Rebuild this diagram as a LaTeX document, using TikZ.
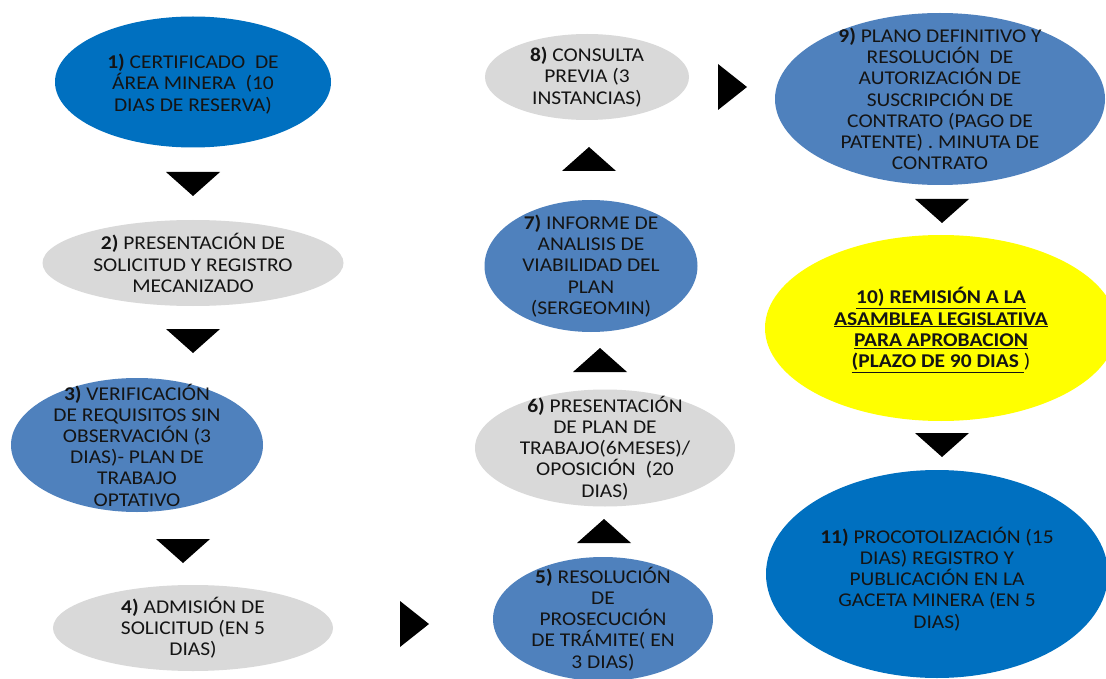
\documentclass[tikz,border=0pt]{standalone}
\usepackage{fontspec}
\setmainfont{Carlito}[FakeStretch=1.1]
\usetikzlibrary{shapes.geometric}
\definecolor{dblue}{HTML}{0070C0}
\definecolor{mblue}{HTML}{4F81BD}
\definecolor{lgray}{HTML}{D9D9D9}
\definecolor{yel}{HTML}{FFFF00}
\tikzset{
  blob/.style={ellipse, inner sep=0pt, draw=none},
  txt/.style={align=center, inner sep=0pt, text=black!92, font=\fontsize{19.5}{21.2}\selectfont},
  downtri/.pic={\fill[black] (-27,-12) -- (27,-12) -- (0,12) -- cycle;},
  uptri/.pic={\fill[black] (-27,12) -- (27,12) -- (0,-12) -- cycle;},
  righttri/.pic={\fill[black] (-14,-23) -- (-14,23) -- (15,0) -- cycle;},
}
\begin{document}
\begin{tikzpicture}[x=1pt,y=-1pt]
\useasboundingbox[fill=white] (0,0) rectangle (1106,679);
% ellipses
\node[blob, fill=dblue, minimum width=276pt, minimum height=131pt] (e1) at (193,82) {};
\node[blob, fill=lgray, minimum width=301pt, minimum height=86pt] (e2) at (193,263) {};
\node[blob, fill=mblue, minimum width=252pt, minimum height=134pt] (e3) at (137,445) {};
\node[blob, fill=lgray, minimum width=280pt, minimum height=86pt] (e4) at (193,628) {};
\node[blob, fill=mblue, minimum width=220pt, minimum height=124pt] (e5) at (603,619) {};
\node[blob, fill=lgray, minimum width=260pt, minimum height=117pt] (e6) at (605,448) {};
\node[blob, fill=mblue, minimum width=213pt, minimum height=132pt] (e7) at (591,266) {};
\node[blob, fill=lgray, minimum width=204pt, minimum height=86pt] (e8) at (587,77) {};
\node[blob, fill=mblue, minimum width=330pt, minimum height=172pt] (e9) at (940,99) {};
\node[blob, fill=yel, minimum width=352pt, minimum height=186pt] (e10) at (941,328) {};
\node[blob, fill=dblue, minimum width=342pt, minimum height=208pt] (e11) at (937,574) {};
% texts
\node[txt] (t1) at ([yshift=-2pt]e1) {\textbf{1)} CERTIFICADO\ \ DE\\ÁREA MINERA\ \ (10\\DIAS DE RESERVA)};
\node[txt] (t2) at (e2) {\textbf{2)} PRESENTACIÓN DE\\SOLICITUD Y REGISTRO\\MECANIZADO};
\node[txt] (t3) at (e3) {\textbf{3)} VERIFICACIÓN\\DE REQUISITOS SIN\\OBSERVACIÓN (3\\DIAS)- PLAN DE\\TRABAJO\\OPTATIVO};
\node[txt] (t4) at (e4) {\textbf{4)} ADMISIÓN DE\\SOLICITUD (EN 5\\DIAS)};
\node[txt] (t5) at (e5) {\textbf{5)} RESOLUCIÓN\\DE\\PROSECUCIÓN\\DE TRÁMITE( EN\\3 DIAS)};
\node[txt] (t6) at (e6) {\textbf{6)} PRESENTACIÓN\\DE PLAN DE\\TRABAJO(6MESES)/\\OPOSICIÓN\ \ (20\\DIAS)};
\node[txt] (t7) at (e7) {\textbf{7)} INFORME DE\\ANALISIS DE\\VIABILIDAD DEL\\PLAN\\(SERGEOMIN)};
\node[txt] (t8) at (e8) {\textbf{8)} CONSULTA\\PREVIA (3\\INSTANCIAS)};
\node[txt] (t9) at (e9) {\textbf{9)} PLANO DEFINITIVO Y\\RESOLUCIÓN\ \ DE\\AUTORIZACIÓN DE\\SUSCRIPCIÓN\ DE\\CONTRATO (PAGO DE\\PATENTE) . MINUTA DE\\CONTRATO};
\node[txt] (t10) at ([yshift=-2pt]e10) {\textbf{\underline{10) REMISIÓN A LA}}\\\textbf{\underline{ASAMBLEA LEGISLATIVA}}\\\textbf{\underline{PARA APROBACION}}\\\textbf{\underline{(PLAZO DE 90 DIAS\ }})};
\node[txt] (t11) at ([yshift=-5pt]e11) {\textbf{11)} PROCOTOLIZACIÓN (15\\DIAS) REGISTRO Y\\PUBLICACIÓN EN LA\\GACETA MINERA (EN 5\\DIAS)};
% connectors (triangles)
\coordinate (c12) at (193,184);
\coordinate (c23) at (193,341);
\coordinate (c34) at (183,551);
\coordinate (c45) at (414,624);
\coordinate (c56) at (604,531);
\coordinate (c67) at (600,360);
\coordinate (c78) at (589,159);
\coordinate (c89) at (732,87);
\coordinate (c910) at (942,211);
\coordinate (c1011) at (942,445);
\pic at (c12) {downtri};
\pic at (c23) {downtri};
\pic at (c34) {downtri};
\pic at (c45) {righttri};
\pic at (c56) {uptri};
\pic at (c67) {uptri};
\pic at (c78) {uptri};
\pic at (c89) {righttri};
\pic at (c910) {downtri};
\pic at (c1011) {downtri};
\end{tikzpicture}
\end{document}
